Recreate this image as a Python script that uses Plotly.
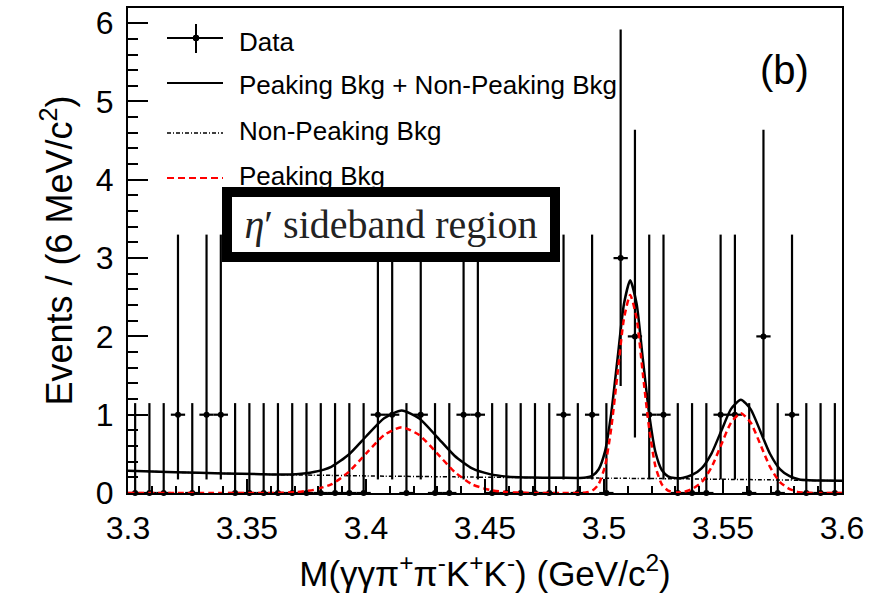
import numpy as np
import plotly.graph_objects as go

# ---------------------------------------------------------------- data
mass_min, mass_max, n_bins = 3.3, 3.6, 50          # 6 MeV/c^2 bins
events = [0, 0, 0, 1, 0, 1, 1, 0, 0, 0,
          0, 0, 0, 0, 0, 0, 0, 1, 1, 0,
          1, 0, 0, 1, 1, 0, 0, 0, 0, 0,
          1, 0, 1, 0, 3, 2, 1, 1, 0, 0,
          0, 1, 1, 0, 2, 0, 1, 0, 0, 0]

# 68.3% CL Poisson interval for an observed count
poisson_low = {0: 0.0, 1: 0.173, 2: 0.708, 3: 1.367}
poisson_high = {0: 1.148, 1: 3.300, 2: 4.638, 3: 5.918}

# fitted curves, sampled along the mass axis
curve_mass = [3.300, 3.320, 3.340, 3.3558, 3.3632,
              3.3706, 3.3780, 3.3854, 3.3928, 3.4002, 3.4076, 3.4150,
              3.4224, 3.4298, 3.4372, 3.4446, 3.4520, 3.4594,
              3.4668, 3.4742, 3.4820, 3.4898, 3.4924,
              3.4951, 3.4977, 3.5004, 3.5030, 3.5057, 3.5084, 3.5110,
              3.5137, 3.5163, 3.5190, 3.5216, 3.5243, 3.5269,
              3.5296,
              3.5329, 3.5370, 3.5411, 3.5452, 3.5493, 3.5534, 3.5575,
              3.5616, 3.5657, 3.5698, 3.5739, 3.5780, 3.5821,
              3.5862, 3.5903, 3.600]
non_peaking = [0.285, 0.265, 0.250, 0.240, 0.235,
               0.231, 0.228, 0.225, 0.221, 0.218, 0.215, 0.213,
               0.211, 0.208, 0.206, 0.203, 0.201, 0.199,
               0.197, 0.195, 0.194, 0.192, 0.191,
               0.190, 0.190, 0.189, 0.188, 0.188, 0.187, 0.187,
               0.186, 0.186, 0.185, 0.184, 0.184, 0.183,
               0.182,
               0.181, 0.180, 0.178, 0.177, 0.175, 0.174, 0.172,
               0.171, 0.169, 0.168, 0.166, 0.165, 0.163,
               0.161, 0.160, 0.156]
peaking = [0.0, 0.0, 0.0, 0.0, 0.002,
           0.01, 0.04, 0.11, 0.27, 0.51, 0.74, 0.84,
           0.74, 0.51, 0.27, 0.11, 0.04, 0.01,
           0.002, 0.0, 0.0, 0.001, 0.006,
           0.03, 0.11, 0.34, 0.82, 1.53, 2.23, 2.53,
           2.23, 1.53, 0.82, 0.34, 0.11, 0.03,
           0.009,
           0.01, 0.05, 0.14, 0.33, 0.62, 0.90, 1.02,
           0.90, 0.62, 0.33, 0.14, 0.05, 0.01,
           0.002, 0.0, 0.0]

x_tick_vals = [3.3, 3.35, 3.4, 3.45, 3.5, 3.55, 3.6]
x_tick_text = ["3.3", "3.35", "3.4", "3.45", "3.5", "3.55", "3.6"]
y_tick_vals = [0, 1, 2, 3, 4, 5, 6]

legend_labels = ["Data", "Peaking Bkg + Non-Peaking Bkg",
                 "Non-Peaking Bkg", "Peaking Bkg"]

# ---------------------------------------------------------------- derived
edges = np.linspace(mass_min, mass_max, n_bins + 1)
centers = 0.5 * (edges[:-1] + edges[1:])
half_bin = 0.5 * (edges[1] - edges[0])
counts = np.array(events, dtype=float)
err_up = np.array([poisson_high[n] for n in events]) - counts
err_dn = counts - np.array([poisson_low[n] for n in events])
total = np.array(non_peaking) + np.array(peaking)

# ---------------------------------------------------------------- frame
W, H = 870, 598
PL, PR, PT, PB = 128, 842, 8, 493
SANS = "Liberation Sans, Arial, Helvetica, sans-serif"
SERIF = "Liberation Serif, Times New Roman, serif"


def fx(xpix):
    return (xpix - PL) / (PR - PL)


def fy(ypix):
    return (PB - ypix) / (PB - PT)


fig = go.Figure()

fig.add_trace(go.Scatter(
    x=centers, y=counts, mode="markers", name=legend_labels[0],
    marker=dict(color="black", size=6),
    error_y=dict(type="data", symmetric=False, array=err_up,
                 arrayminus=err_dn, width=0, thickness=2.2, color="black"),
    error_x=dict(type="constant", value=half_bin, width=0,
                 thickness=2.2, color="black"),
    cliponaxis=False, showlegend=False))

fig.add_trace(go.Scatter(
    x=curve_mass, y=total, mode="lines", name=legend_labels[1],
    line=dict(color="black", width=2.5, shape="spline", smoothing=0.6),
    showlegend=False))

fig.add_trace(go.Scatter(
    x=curve_mass, y=non_peaking, mode="lines", name=legend_labels[2],
    line=dict(color="black", width=1.5, dash="4px,2px,1px,2px",
              shape="spline", smoothing=0.6),
    showlegend=False))

fig.add_trace(go.Scatter(
    x=curve_mass, y=peaking, mode="lines", name=legend_labels[3],
    line=dict(color="#ff0000", width=2.5, dash="6px,4px",
              shape="spline", smoothing=0.6),
    showlegend=False))

# ---------------------------------------------------------------- legend
shapes = []
annotations = []
sym_x0, sym_x1, sym_xc = 167, 223, 196
row_y = [38, 83, 133, 178]
text_y = [42, 85, 131, 176]
shapes.append(dict(type="line", xref="paper", yref="paper",
                   x0=fx(sym_x0), x1=fx(sym_x1), y0=fy(row_y[0]), y1=fy(row_y[0]),
                   line=dict(color="black", width=2)))
shapes.append(dict(type="line", xref="paper", yref="paper",
                   x0=fx(sym_xc), x1=fx(sym_xc), y0=fy(24), y1=fy(53),
                   line=dict(color="black", width=2)))
shapes.append(dict(type="circle", xref="paper", yref="paper",
                   x0=fx(sym_xc - 3), x1=fx(sym_xc + 3),
                   y0=fy(row_y[0] + 3), y1=fy(row_y[0] - 3),
                   fillcolor="black", line=dict(color="black", width=1)))
shapes.append(dict(type="line", xref="paper", yref="paper",
                   x0=fx(sym_x0), x1=fx(sym_x1), y0=fy(row_y[1]), y1=fy(row_y[1]),
                   line=dict(color="black", width=2)))
shapes.append(dict(type="line", xref="paper", yref="paper",
                   x0=fx(sym_x0), x1=fx(sym_x1), y0=fy(row_y[2]), y1=fy(row_y[2]),
                   line=dict(color="black", width=1.5, dash="4px,2px,1px,2px")))
shapes.append(dict(type="line", xref="paper", yref="paper",
                   x0=fx(sym_x0), x1=fx(sym_x1), y0=fy(row_y[3]), y1=fy(row_y[3]),
                   line=dict(color="#ff0000", width=2, dash="7px,4px")))

for label, ty in zip(legend_labels, text_y):
    annotations.append(dict(text=label, xref="paper", yref="paper",
                            x=fx(237), y=fy(ty), xanchor="left",
                            yanchor="middle", showarrow=False,
                            font=dict(family=SANS, size=26, color="black")))

# panel tag
annotations.append(dict(text="(b)", xref="paper", yref="paper",
                        x=fx(784), y=fy(70), xanchor="center",
                        yanchor="middle", showarrow=False,
                        font=dict(family=SANS, size=40, color="black")))

# region label box
annotations.append(dict(text="<i>η</i>′ sideband region", xref="paper",
                        yref="paper", x=fx(391), y=fy(224),
                        xanchor="center", yanchor="middle", showarrow=False,
                        width=318, height=55, align="center",
                        bgcolor="white", bordercolor="black",
                        borderwidth=10, borderpad=0,
                        font=dict(family=SERIF, size=40, color="#222222")))

fig.update_layout(
    width=W, height=H,
    margin=dict(l=PL, r=W - PR, t=PT, b=H - PB, pad=0),
    paper_bgcolor="white", plot_bgcolor="white",
    shapes=shapes, annotations=annotations,
    xaxis=dict(
        range=[mass_min, mass_max], tickmode="array",
        tickvals=x_tick_vals, ticktext=x_tick_text,
        ticks="inside", ticklen=14, tickwidth=1.5, tickcolor="black",
        minor=dict(tickmode="linear", tick0=mass_min, dtick=0.01,
                   ticks="inside", ticklen=7, tickwidth=1.5,
                   tickcolor="black", showgrid=False),
        showline=True, linecolor="black", linewidth=2, mirror=True,
        showgrid=False, zeroline=False,
        tickfont=dict(family=SANS, size=32, color="black"),
        ticklabelstandoff=6,
        title=dict(text="M(γγπ<sup>+</sup>π<sup>-</sup>K<sup>+</sup>K<sup>-</sup>) (GeV/c<sup>2</sup>)",
                   font=dict(family=SANS, size=35, color="black"),
                   standoff=16),
        automargin=False),
    yaxis=dict(
        range=[0, 6.194], tickmode="array", tickvals=y_tick_vals,
        ticks="inside", ticklen=20, tickwidth=1.5, tickcolor="black",
        minor=dict(tickmode="linear", tick0=0, dtick=0.2,
                   ticks="inside", ticklen=10, tickwidth=1.5,
                   tickcolor="black", showgrid=False),
        showline=True, linecolor="black", linewidth=2, mirror=True,
        showgrid=False, zeroline=False,
        tickfont=dict(family=SANS, size=32, color="black"),
        ticklabelstandoff=6,
        title=dict(text="Events / (6 MeV/c<sup>2</sup>)",
                   font=dict(family=SANS, size=36, color="black"),
                   standoff=12),
        automargin=False),
)

fig.write_html("out.html")
